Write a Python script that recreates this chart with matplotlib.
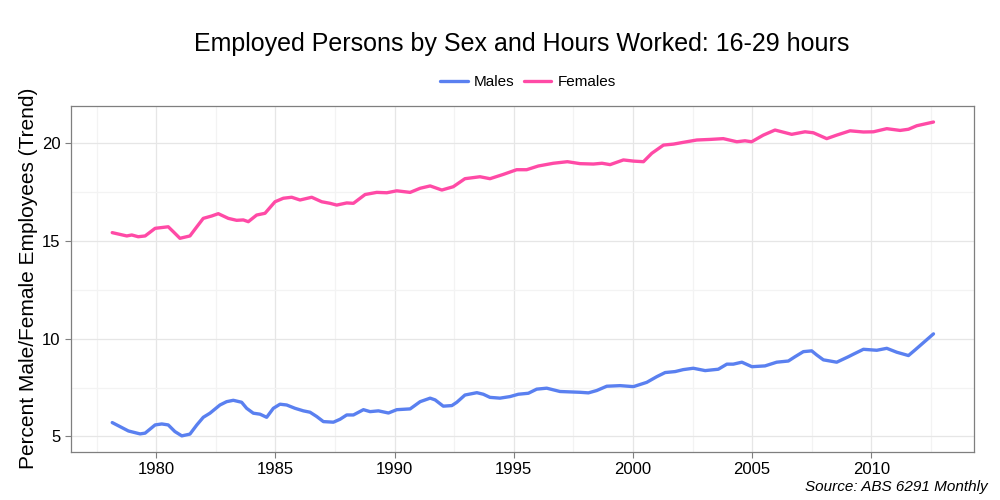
import numpy as np
import matplotlib
matplotlib.use("Agg")
import matplotlib.pyplot as plt
from matplotlib.ticker import MultipleLocator

plt.rcParams['font.family'] = ['Liberation Sans', 'DejaVu Sans']

# values (year, percent)
male_year = [1978.15, 1978.83, 1979.32, 1979.53, 1979.95, 1980.23, 1980.5, 1980.78, 1981.07, 1981.41,
             1981.7, 1981.97, 1982.25, 1982.67, 1982.95, 1983.23, 1983.58, 1983.79, 1984.07, 1984.35,
             1984.63, 1984.91, 1985.19, 1985.47, 1985.82, 1986.17, 1986.45, 1986.73, 1987.01, 1987.43,
             1987.71, 1987.99, 1988.27, 1988.69, 1988.97, 1989.32, 1989.74, 1990.09, 1990.65, 1991.07,
             1991.49, 1991.7, 1992.04, 1992.4, 1992.61, 1992.95, 1993.45, 1993.72, 1994.0, 1994.42,
             1994.84, 1995.19, 1995.61, 1995.96, 1996.38, 1996.94, 1997.36, 1997.78, 1998.13, 1998.48,
             1998.9, 1999.46, 2000.02, 2000.58, 2001.0, 2001.35, 2001.77, 2002.11, 2002.53, 2003.03,
             2003.58, 2003.94, 2004.21, 2004.57, 2004.99, 2005.54, 2006.03, 2006.52, 2006.8, 2007.15,
             2007.5, 2007.71, 2007.99, 2008.55, 2009.04, 2009.25, 2009.67, 2010.23, 2010.65, 2011.07,
             2011.56, 2011.84, 2012.61]
male_pct = [5.71, 5.28, 5.13, 5.17, 5.59, 5.64, 5.59, 5.25, 5.03, 5.12,
            5.59, 5.98, 6.19, 6.61, 6.78, 6.85, 6.75, 6.44, 6.19, 6.14,
            5.98, 6.44, 6.65, 6.61, 6.44, 6.31, 6.24, 6.02, 5.76, 5.73,
            5.88, 6.10, 6.10, 6.37, 6.27, 6.31, 6.20, 6.37, 6.41, 6.78,
            6.96, 6.87, 6.55, 6.58, 6.75, 7.12, 7.24, 7.16, 7.00, 6.96,
            7.04, 7.16, 7.21, 7.42, 7.47, 7.30, 7.28, 7.26, 7.23, 7.35,
            7.57, 7.60, 7.55, 7.77, 8.06, 8.27, 8.32, 8.42, 8.49, 8.37,
            8.44, 8.70, 8.70, 8.80, 8.57, 8.61, 8.80, 8.86, 9.08, 9.34,
            9.38, 9.17, 8.92, 8.80, 9.08, 9.21, 9.46, 9.41, 9.51, 9.31,
            9.14, 9.43, 10.25]

female_year = [1978.15, 1978.76, 1978.97, 1979.24, 1979.53, 1979.95, 1980.5, 1980.71, 1980.99, 1981.41,
               1981.7, 1981.97, 1982.32, 1982.6, 1983.02, 1983.37, 1983.65, 1983.86, 1984.21, 1984.56,
               1984.98, 1985.33, 1985.68, 1986.03, 1986.52, 1986.94, 1987.29, 1987.57, 1987.99, 1988.27,
               1988.76, 1989.25, 1989.67, 1990.09, 1990.65, 1991.07, 1991.49, 1991.98, 1992.46, 1992.95,
               1993.58, 1994.0, 1994.56, 1995.12, 1995.54, 1996.03, 1996.66, 1997.25, 1997.78, 1998.34,
               1998.7, 1999.04, 1999.6, 2000.02, 2000.44, 2000.79, 2001.28, 2001.7, 2002.11, 2002.68,
               2003.24, 2003.79, 2004.36, 2004.7, 2004.98, 2005.47, 2005.96, 2006.66, 2007.22, 2007.57,
               2008.13, 2008.55, 2009.11, 2009.67, 2010.09, 2010.65, 2011.21, 2011.56, 2011.91, 2012.61]
female_pct = [15.43, 15.26, 15.31, 15.22, 15.26, 15.65, 15.73, 15.48, 15.14, 15.26,
              15.73, 16.16, 16.28, 16.40, 16.16, 16.06, 16.08, 15.99, 16.33, 16.42,
              17.01, 17.19, 17.24, 17.10, 17.24, 17.01, 16.93, 16.84, 16.95, 16.93,
              17.38, 17.49, 17.47, 17.57, 17.49, 17.70, 17.82, 17.61, 17.78, 18.19,
              18.29, 18.19, 18.41, 18.65, 18.65, 18.84, 18.98, 19.06, 18.96, 18.94,
              18.98, 18.91, 19.15, 19.09, 19.06, 19.49, 19.91, 19.96, 20.05, 20.17,
              20.20, 20.24, 20.08, 20.13, 20.08, 20.42, 20.68, 20.46, 20.59, 20.54,
              20.24, 20.42, 20.64, 20.58, 20.59, 20.75, 20.66, 20.72, 20.90, 21.09]

fig = plt.figure(figsize=(10, 5), dpi=100)
ax = fig.add_axes([0.071, 0.097, 0.903, 0.691])

ax.plot(male_year, male_pct, color='#5a80f0', lw=2.4, label='Males',
        solid_capstyle='round', solid_joinstyle='round')
ax.plot(female_year, female_pct, color='#ff4aa6', lw=2.4, label='Females',
        solid_capstyle='round', solid_joinstyle='round')

ax.set_xlim(1976.42, 2014.31)
ax.set_ylim(4.23, 21.91)
ax.xaxis.set_major_locator(MultipleLocator(5))
ax.xaxis.set_minor_locator(MultipleLocator(2.5))
ax.yaxis.set_major_locator(MultipleLocator(5))
ax.yaxis.set_minor_locator(MultipleLocator(2.5))
ax.grid(which='major', color='#e6e6e6', lw=0.9)
ax.grid(which='minor', color='#f3f3f3', lw=0.9)
ax.set_axisbelow(True)
ax.tick_params(which='major', length=4, color='#7f7f7f', labelsize=12, labelcolor='black')
ax.tick_params(which='minor', length=0)
for s in ax.spines.values():
    s.set_color('#7f7f7f')
    s.set_linewidth(0.9)

ax.set_ylabel('Percent Male/Female Employees (Trend)', fontsize=15, labelpad=3)
fig.suptitle('Employed Persons by Sex and Hours Worked: 16-29 hours', fontsize=18, x=0.522, y=0.935)
fig.legend(loc='center', bbox_to_anchor=(0.528, 0.836), ncol=2, frameon=False, fontsize=11,
           handlelength=1.8, columnspacing=0.6, handletextpad=0.4)
fig.text(0.988, 0.012, 'Source: ABS 6291 Monthly', ha='right', va='bottom', fontsize=11, style='italic')

fig.savefig('out.png', dpi=100)
